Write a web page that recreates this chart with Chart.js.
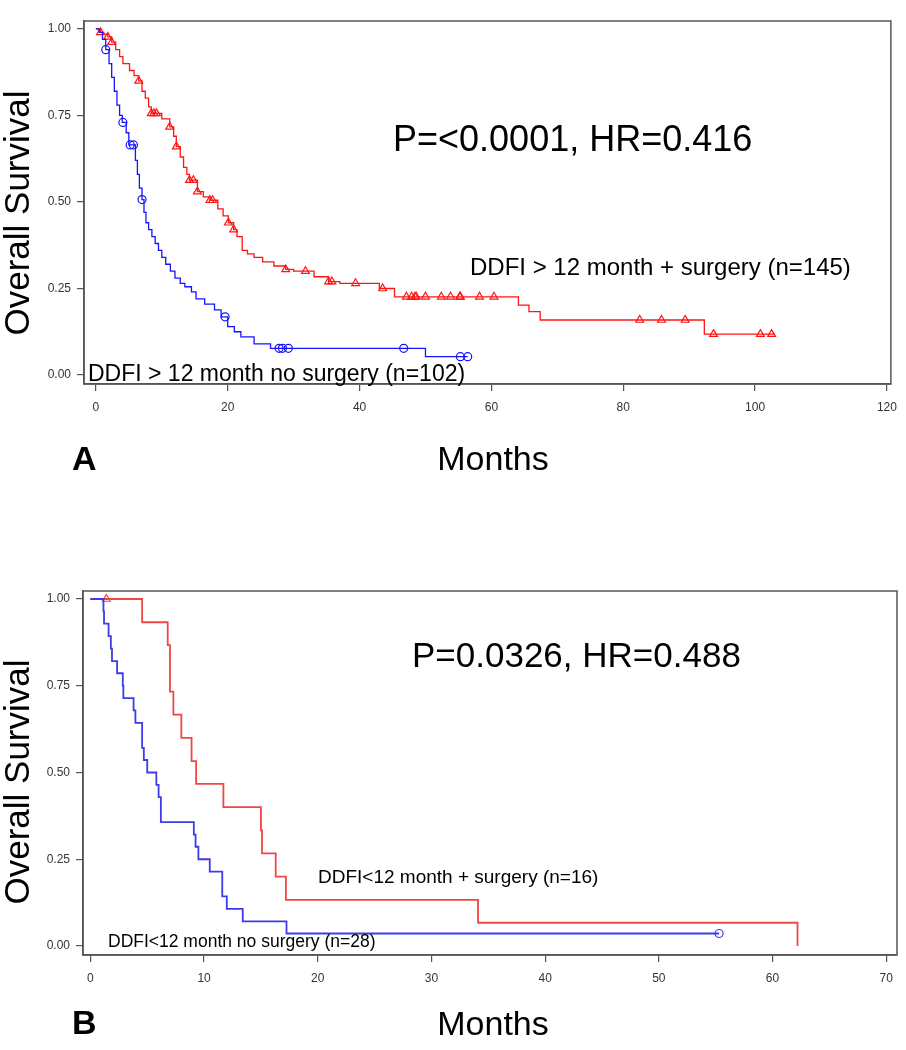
<!DOCTYPE html>
<html>
<head>
<meta charset="utf-8">
<script src="https://cdn.jsdelivr.net/npm/chart.js@4"></script>
<style>
    body { margin: 0; background: #fff; }
    canvas { display: block; }
</style>
</head>
<body>
<canvas id="chart_a" width="906" height="500"></canvas>
<canvas id="chart_b" width="906" height="550"></canvas>
<script>
// panel A: DDFI > 12 month
const X_TICKS_A = [0, 20, 40, 60, 80, 100, 120];
const Y_TICKS = [0, 0.25, 0.5, 0.75, 1];

// surgery (red) - time of each drop, survival after the drop
const a_surg_months = [0, 0.7, 1.2, 1.8, 2.4, 3.0, 3.6, 4.1, 5.1, 5.8, 6.5, 7.0, 7.5, 8.0, 8.4, 10.0, 11.2, 11.8, 12.2, 12.8,
    13.3, 13.8, 14.2, 15.4, 16.3, 17.3, 18.5, 19.3, 20.1, 20.9, 21.4, 22.2, 23.0, 24.0, 25.3, 27.0, 28.8, 30.0, 33.1,
    35.3, 37.0, 43.0, 45.3, 64.1, 65.7, 67.4, 92.3, 103];
const a_surg_surv = [1.0, 0.99, 0.985, 0.977, 0.962, 0.94, 0.92, 0.90, 0.88, 0.865, 0.85, 0.82, 0.80, 0.775, 0.756, 0.74, 0.717, 0.69, 0.66, 0.63,
    0.60, 0.58, 0.563, 0.53, 0.515, 0.505, 0.48, 0.46, 0.44, 0.42, 0.40, 0.36, 0.35, 0.34, 0.327, 0.315, 0.305, 0.30, 0.284,
    0.27, 0.265, 0.25, 0.226, 0.202, 0.183, 0.159, 0.118, 0.118];
const a_surg_censored = [0.7, 1.8, 2.4, 6.5, 8.4, 8.8, 9.2, 11.2, 12.2, 14.2, 14.8, 15.4, 17.3, 17.7, 20.1, 20.9, 28.8, 31.8,
    35.3, 35.8, 39.4, 43.5, 47.1, 47.9, 48.4, 48.6, 50.0, 52.4, 53.8, 55.2, 55.3, 58.2, 60.4, 82.5, 85.8, 89.4, 93.7, 100.8, 102.5];

// no surgery (blue)
const a_nosurg_months = [0, 0.5, 1.0, 1.5, 2.0, 2.4, 2.8, 3.2, 3.6, 4.0, 4.6, 5.0, 6.0, 6.3, 6.6, 7.0, 7.3, 7.6, 8.0, 8.5,
    9.0, 9.5, 10.0, 10.6, 11.3, 12.0, 12.8, 13.5, 14.5, 15.2, 16.5, 18.0, 19.0, 20.0, 21.0, 22.0, 24.0, 26.5, 50.0, 56.4];
const a_nosurg_surv = [1.0, 0.99, 0.97, 0.94, 0.90, 0.86, 0.82, 0.78, 0.75, 0.73, 0.70, 0.665, 0.62, 0.58, 0.54, 0.507, 0.47, 0.44, 0.42, 0.40,
    0.38, 0.36, 0.34, 0.32, 0.30, 0.28, 0.265, 0.255, 0.24, 0.22, 0.205, 0.188, 0.168, 0.14, 0.125, 0.11, 0.09, 0.077, 0.053, 0.053];
const a_nosurg_censored = [1.5, 4.1, 5.2, 5.7, 7.0, 19.6, 27.8, 28.3, 29.2, 46.7, 55.3, 56.4];

// panel B: DDFI < 12 month
const X_TICKS_B = [0, 10, 20, 30, 40, 50, 60, 70];

const b_surg_months = [0, 4.55, 6.8, 7.0, 7.3, 8.0, 8.9, 9.3, 11.7, 15.0, 15.1, 16.3, 17.2, 34.1, 62.2];
const b_surg_surv = [1.0, 0.933, 0.867, 0.733, 0.667, 0.60, 0.533, 0.467, 0.40, 0.333, 0.267, 0.20, 0.133, 0.067, 0.0];
const b_surg_censored = [1.4];

const b_nosurg_months = [0, 1.15, 1.2, 1.6, 1.8, 1.9, 2.35, 2.85, 2.9, 3.8, 3.96, 4.55, 4.7, 5.0, 5.8, 6.0, 6.2,
    9.1, 9.25, 9.5, 10.5, 11.6, 12.0, 13.4, 17.25, 55.3];
const b_nosurg_surv = [1.0, 0.964, 0.929, 0.893, 0.857, 0.821, 0.786, 0.75, 0.714, 0.679, 0.643, 0.571, 0.536, 0.5, 0.464, 0.429, 0.357,
    0.321, 0.286, 0.25, 0.214, 0.143, 0.107, 0.071, 0.036, 0.036];
const b_nosurg_censored = [55.3];

const RED = 'rgb(255,20,20)';
const BLUE = 'rgb(20,20,255)';
const TEXT_FONT = "'Liberation Sans', Arial, sans-serif";
const TICK_FONT = "'Liberation Sans Narrow', 'Arial Narrow', 'Liberation Sans', sans-serif";

// survival at time t from a step curve
function surv_at(months, surv, t) {
    let s = surv[0];
    for (let i = 0; i < months.length; i++) {
        if (months[i] <= t) s = surv[i];
    }
    return s;
}

function km_line(months, surv, color, width) {
    return {
        data: months.map((m, i) => ({x: m, y: surv[i]})),
        showLine: true,
        stepped: 'before',
        borderColor: color,
        borderWidth: width,
        pointRadius: 0,
        fill: false
    };
}

function km_marks(months, surv, censored, color, style, radius) {
    return {
        data: censored.map(t => ({x: t, y: surv_at(months, surv, t)})),
        showLine: false,
        pointStyle: style,
        pointRadius: radius,
        pointBorderColor: color,
        pointBackgroundColor: 'rgba(0,0,0,0)',
        pointBorderWidth: 1.2
    };
}

// frame round plot area + free text
const frame_and_text = {
    id: 'frame_and_text',
    afterDraw(chart, args, opts) {
        const ctx = chart.ctx;
        const a = chart.chartArea;
        ctx.save();
        ctx.strokeStyle = '#555';
        ctx.lineWidth = 1.5;
        ctx.strokeRect(a.left, a.top, a.right - a.left, a.bottom - a.top);
        ctx.fillStyle = '#000';
        ctx.textBaseline = 'middle';
        for (const t of opts.texts) {
            ctx.save();
            ctx.font = t.font;
            ctx.textAlign = t.align || 'left';
            ctx.translate(t.x, t.y);
            if (t.rotate) ctx.rotate(t.rotate);
            ctx.fillText(t.text, 0, 0);
            ctx.restore();
        }
        ctx.restore();
    }
};

function make_chart(canvas_id, datasets, x_ticks, x_min, x_max, pad, y_width, x_height, texts) {
    return new Chart(document.getElementById(canvas_id), {
        type: 'scatter',
        data: {datasets: datasets},
        plugins: [frame_and_text],
        options: {
            responsive: false,
            animation: false,
            layout: {padding: pad},
            plugins: {
                legend: {display: false},
                tooltip: {enabled: false},
                frame_and_text: {texts: texts}
            },
            scales: {
                x: {
                    type: 'linear',
                    min: x_min,
                    max: x_max,
                    afterBuildTicks: s => { s.ticks = x_ticks.map(v => ({value: v})); },
                    afterFit: s => { s.height = x_height; },
                    grid: {drawOnChartArea: false, drawTicks: true, tickLength: 7, color: '#555', lineWidth: 1.2},
                    border: {display: true, color: '#555', width: 1.5},
                    ticks: {color: '#333', font: {family: TICK_FONT, size: 12}, padding: 9, maxRotation: 0,
                        callback: v => v.toString()}
                },
                y: {
                    type: 'linear',
                    min: -0.026,
                    max: 1.023,
                    afterBuildTicks: s => { s.ticks = Y_TICKS.map(v => ({value: v})); },
                    afterFit: s => { s.width = y_width; },
                    grid: {drawOnChartArea: false, drawTicks: true, tickLength: 7, color: '#555', lineWidth: 1.2},
                    border: {display: true, color: '#555', width: 1.5},
                    ticks: {color: '#333', font: {family: TICK_FONT, size: 12}, padding: 6,
                        callback: v => v.toFixed(2)}
                }
            }
        }
    });
}

make_chart('chart_a', [
        km_line(a_nosurg_months, a_nosurg_surv, BLUE, 1.3),
        km_marks(a_nosurg_months, a_nosurg_surv, a_nosurg_censored, BLUE, 'circle', 4),
        km_line(a_surg_months, a_surg_surv, RED, 1.3),
        km_marks(a_surg_months, a_surg_surv, a_surg_censored, RED, 'triangle', 4.5)
    ], X_TICKS_A, -1.8, 120.6,
    {top: 21, right: 13, left: 0, bottom: 0}, 84, 116,
    [
        {text: 'P=<0.0001, HR=0.416', x: 393, y: 141, font: '36px ' + TEXT_FONT},
        {text: 'DDFI > 12 month + surgery (n=145)', x: 470, y: 268, font: '24px ' + TEXT_FONT},
        {text: 'DDFI > 12 month no surgery (n=102)', x: 88, y: 375, font: '23px ' + TEXT_FONT},
        {text: 'Months', x: 493, y: 461, font: '34px ' + TEXT_FONT, align: 'center'},
        {text: 'A', x: 72, y: 461, font: 'bold 34px ' + TEXT_FONT},
        {text: 'Overall Survival', x: 19, y: 213, font: '35px ' + TEXT_FONT, align: 'center', rotate: -Math.PI / 2}
    ]);

make_chart('chart_b', [
        km_line(b_nosurg_months, b_nosurg_surv, 'rgb(60,60,235)', 1.8),
        km_marks(b_nosurg_months, b_nosurg_surv, b_nosurg_censored, 'rgb(60,60,235)', 'circle', 4),
        km_line(b_surg_months, b_surg_surv, 'rgb(240,70,70)', 1.8),
        km_marks(b_surg_months, b_surg_surv, b_surg_censored, 'rgb(240,70,70)', 'triangle', 4.5)
    ], X_TICKS_B, -0.65, 70.95,
    {top: 91, right: 9, left: 0, bottom: 0}, 83, 95,
    [
        {text: 'P=0.0326, HR=0.488', x: 412, y: 157, font: '35px ' + TEXT_FONT},
        {text: 'DDFI<12 month + surgery (n=16)', x: 318, y: 378, font: '19px ' + TEXT_FONT},
        {text: 'DDFI<12 month no surgery (n=28)', x: 108, y: 442, font: '17.5px ' + TEXT_FONT},
        {text: 'Months', x: 493, y: 526, font: '34px ' + TEXT_FONT, align: 'center'},
        {text: 'B', x: 72, y: 525, font: 'bold 34px ' + TEXT_FONT},
        {text: 'Overall Survival', x: 19, y: 282, font: '35px ' + TEXT_FONT, align: 'center', rotate: -Math.PI / 2}
    ]);
</script>
</body>
</html>
